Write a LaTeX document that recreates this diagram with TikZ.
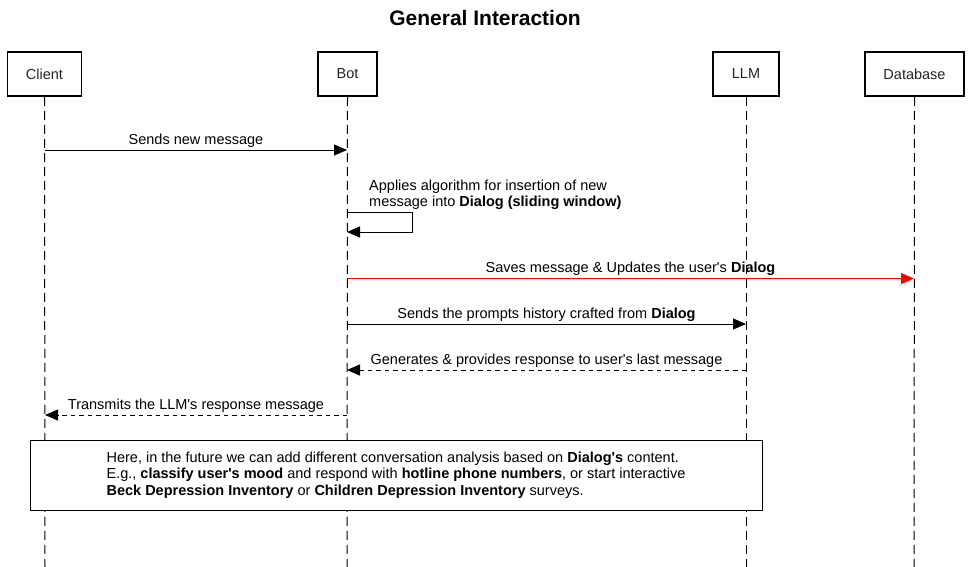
\documentclass[tikz,border=0pt]{standalone}
\usepackage{fontspec}
\setmainfont{Liberation Sans}
\usetikzlibrary{arrows.meta}
\newcommand\sq{\textquotesingle}
\begin{document}
\begin{tikzpicture}[x=1pt,y=-1pt,
  font=\fontsize{14.5}{16.5}\selectfont,
  actor/.style={draw=black, line width=1.8pt, minimum height=44pt, inner sep=0pt, text=black!85, fill=white},
  lifeline/.style={draw=black, line width=1pt, dash pattern=on 9pt off 5pt},
  msg/.style={draw=black, line width=1pt, -{Triangle[length=13pt,width=11pt]}},
  reply/.style={msg, dash pattern=on 4.5pt off 4pt},
  msglabel/.style={midway, anchor=base, yshift=6pt, inner sep=0pt, text=black},
  notebox/.style={draw=black, line width=1pt, fill=white, minimum width=732pt, minimum height=70pt, align=left, inner sep=0pt}
]
\useasboundingbox (0,0) rectangle (971,567);

\node[font=\fontsize{21}{24}\bfseries\selectfont] (title) at (485,18) {General Interaction};

\node[actor, minimum width=74pt] (client) at (44.5,74) {Client};
\node[actor, minimum width=59pt] (bot) at (347.5,74) {Bot};
\node[actor, minimum width=66pt] (llm) at (746,74) {LLM};
\node[actor, minimum width=99pt] (db) at (914.5,74) {Database};

\coordinate (clientE) at (45,567);
\coordinate (botE) at (347,567);
\coordinate (llmE) at (746,567);
\coordinate (dbE) at (914,567);

\draw[lifeline] (client.south) -- (clientE);
\draw[lifeline] (bot.south) -- (botE);
\draw[lifeline] (llm.south) -- (llmE);
\draw[lifeline] (db.south) -- (dbE);

% 1
\coordinate (c1) at (45,150); \coordinate (b1) at (347,150);
\draw[msg] (c1) -- node[msglabel] (l1) {Sends new message} (b1);

% 2 self loop
\coordinate (b2) at (347,212); \coordinate (b3) at (347,232); \coordinate (loopR) at (412,212);
\draw[msg] (b2) -- (loopR) |- (b3);
\node[anchor=north west, align=left, inner sep=0pt] (l2) at (369,179.5)
  {Applies algorithm for insertion of new\\message into \textbf{Dialog (sliding window)}};

% 3 red
\coordinate (b4) at (347,278.5); \coordinate (d4) at (914,278.5);
\draw[msg, draw=red, -{Triangle[length=13pt,width=11pt,fill=red]}] (b4) -- node[msglabel] (l3) {Saves message \& Updates the user\sq s \textbf{Dialog}} (d4);

% 4
\coordinate (b5) at (347,324); \coordinate (m5) at (746,324);
\draw[msg] (b5) -- node[msglabel] (l4) {Sends the prompts history crafted from \textbf{Dialog}} (m5);

% 5
\coordinate (m6) at (746,370); \coordinate (b6) at (347,370);
\draw[reply] (m6) -- node[msglabel] (l5) {Generates \& provides response to user\sq s last message} (b6);

% 6
\coordinate (b7) at (347,415); \coordinate (c7) at (45,415);
\draw[reply] (b7) -- node[msglabel] (l6) {Transmits the LLM\sq s response message} (c7);

% note
\node[notebox] (note) at (396,475)
  {Here, in the future we can add different conversation analysis based on \textbf{Dialog\sq s} content.\\
   E.g., \textbf{classify user\sq s mood} and respond with \textbf{hotline phone numbers}, or start interactive\\
   \textbf{Beck Depression Inventory} or \textbf{Children Depression Inventory} surveys.};
\end{tikzpicture}
\end{document}
